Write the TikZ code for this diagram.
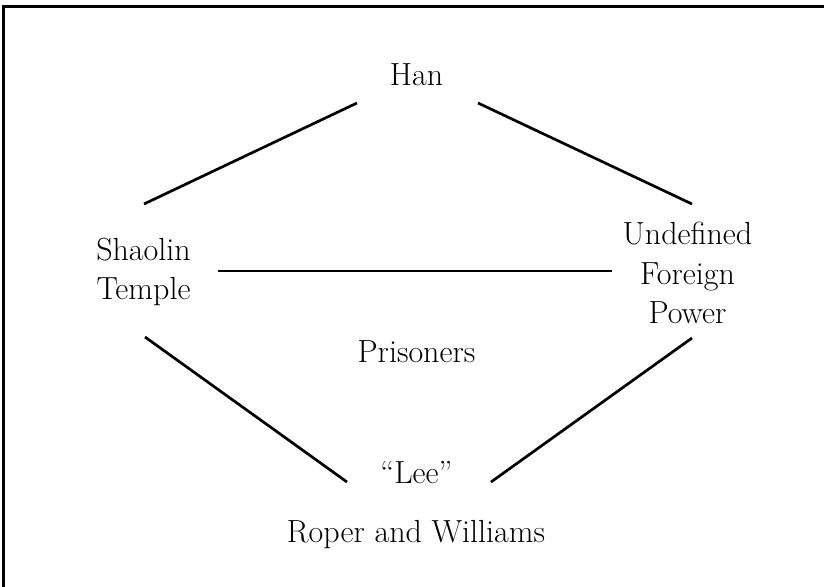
\documentclass[tikz,border=0pt]{standalone}
\usepackage{fontspec}
\begin{document}
\begin{tikzpicture}[x=1pt,y=-1pt,
  lbl/.style={inner sep=0pt,outer sep=0pt,align=center,font=\fontsize{32}{39.5}\selectfont},
  link/.style={line width=2.7pt},
  frame/.style={line width=2.7pt}]
\useasboundingbox (0,0) rectangle (824,586);
\coordinate (fbot) at (3.3,600);
\coordinate (fcorner) at (3.3,6.2);
\coordinate (fright) at (830,6.2);
\draw[frame] (fbot) -- (fcorner) -- (fright);
\node[lbl,anchor=base] (han) at (416.5,85) {Han};
\node[lbl] (shaolin) at (143.5,272) {Shaolin\\Temple};
\node[lbl] (ufp) at (687.5,273) {Undefined\\Foreign\\Power};
\node[lbl,anchor=base] (prisoners) at (416.5,362) {Prisoners};
\node[lbl,anchor=base] (lee) at (416.5,483) {``Lee''};
\node[lbl,anchor=base] (rw) at (416,542) {Roper and Williams};
\draw[link] ([shift={(-59.5,18)}]han.base) -- ([shift={(0.5,-68)}]shaolin.center);
\draw[link] ([shift={(61.5,18)}]han.base) -- ([shift={(4.5,-69)}]ufp.center);
\draw[link] ([shift={(74.5,-1)}]shaolin.center) -- ([shift={(-75.5,-2)}]ufp.center);
\draw[link] ([shift={(1.5,65)}]shaolin.center) -- ([shift={(-69.5,-1)}]lee.base);
\draw[link] ([shift={(4.5,65)}]ufp.center) -- ([shift={(74.5,-1)}]lee.base);
\end{tikzpicture}
\end{document}
